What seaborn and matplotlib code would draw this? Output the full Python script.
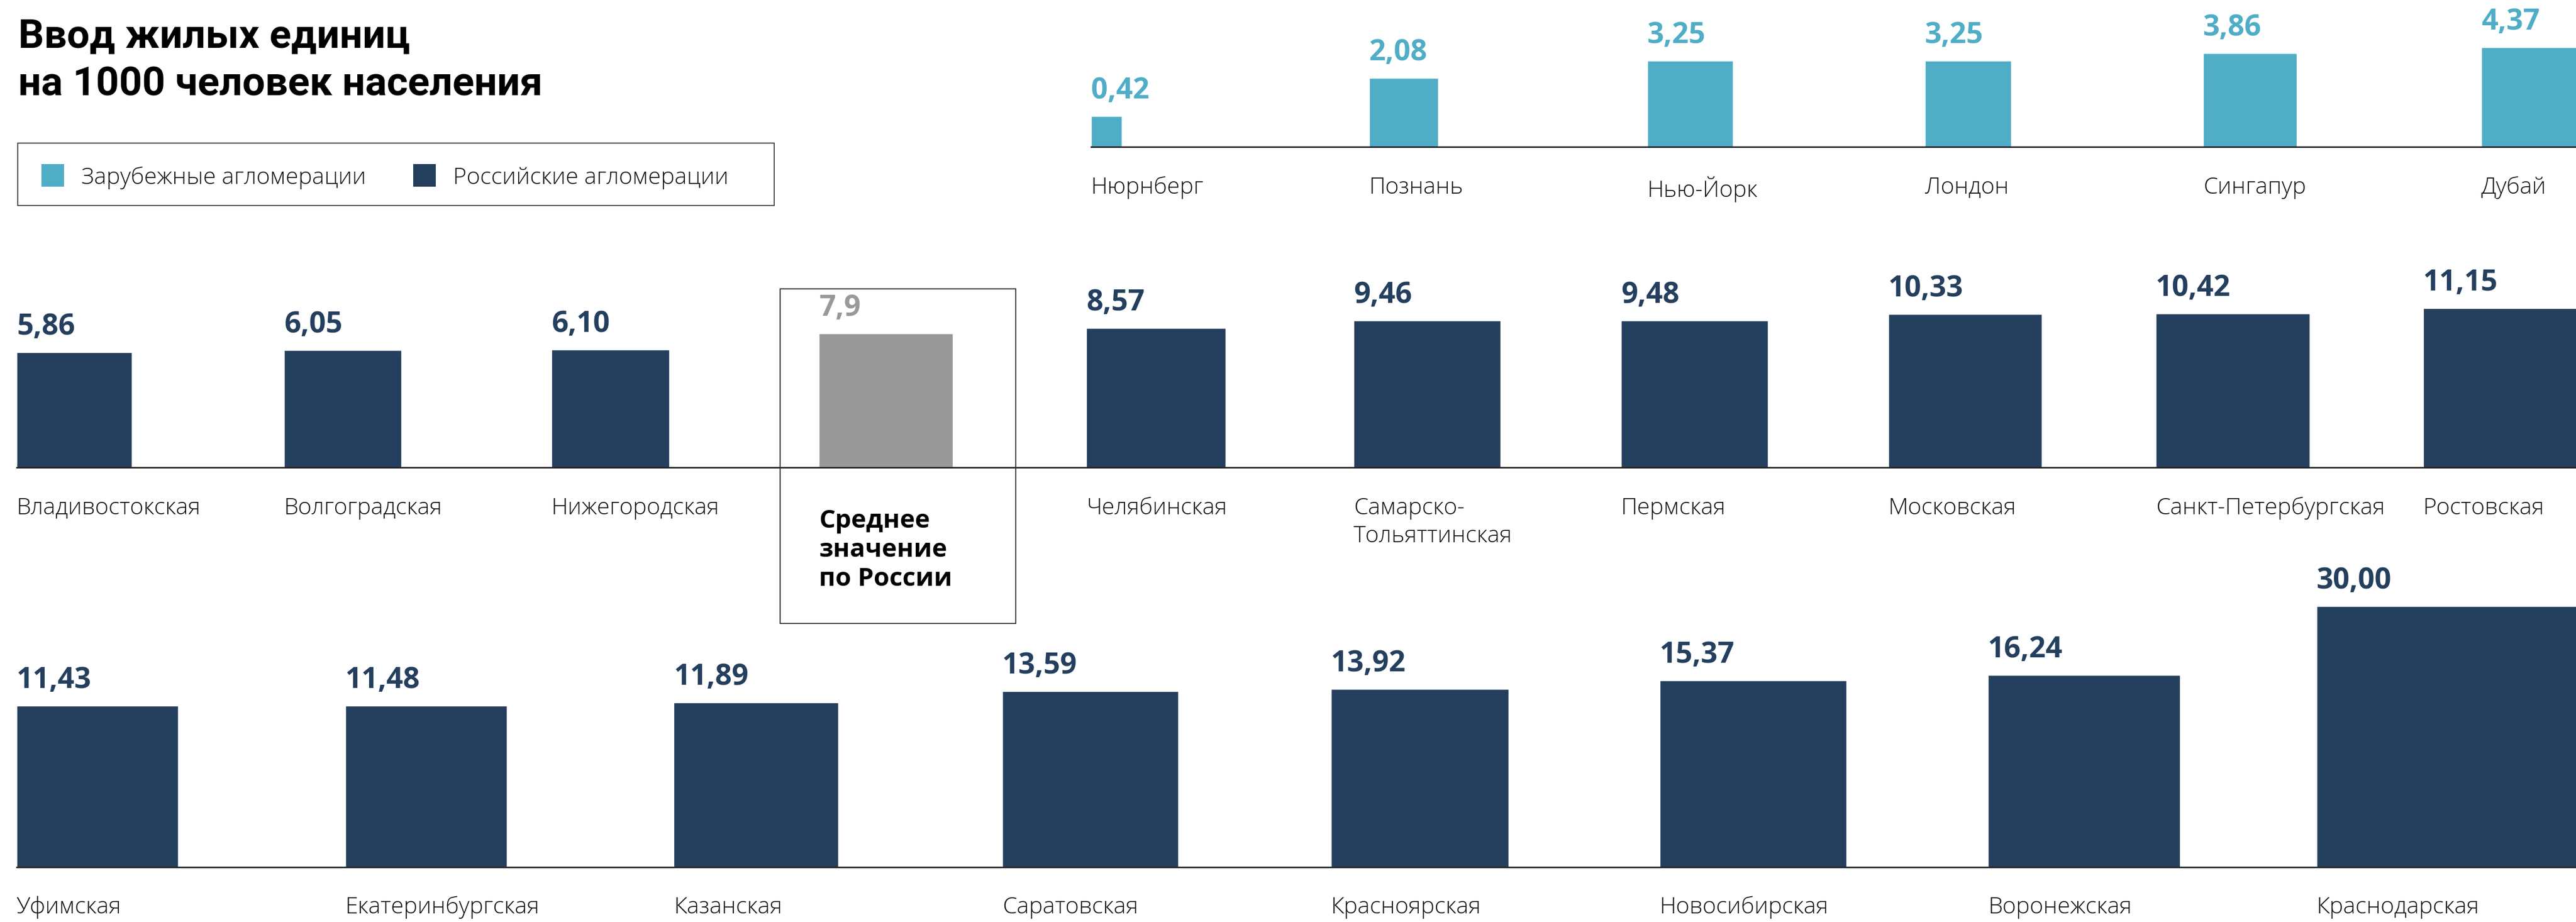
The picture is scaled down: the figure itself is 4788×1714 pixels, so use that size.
import numpy as np
import pandas as pd
import matplotlib
matplotlib.use("Agg")
import matplotlib.pyplot as plt
import seaborn as sns
from matplotlib.patches import Rectangle
from matplotlib.transforms import offset_copy

# --- data ---
foreign_names = ["Нюрнберг", "Познань", "Нью-Йорк", "Лондон", "Сингапур", "Дубай"]
foreign_values = [0.42, 2.08, 3.25, 3.25, 3.86, 4.37]

mid_names = ["Владивостокская", "Волгоградская", "Нижегородская",
             "Среднее\nзначение\nпо России", "Челябинская",
             "Самарско-\nТольяттинская", "Пермская", "Московская",
             "Санкт-Петербургская", "Ростовская"]
mid_values = [5.86, 6.05, 6.10, 7.9, 8.57, 9.46, 9.48, 10.33, 10.42, 11.15]

low_names = ["Уфимская", "Екатеринбургская", "Казанская", "Саратовская",
             "Красноярская", "Новосибирская", "Воронежская", "Краснодарская"]
low_values = [11.43, 11.48, 11.89, 13.59, 13.92, 15.37, 16.24, 30.00]

avg_name = "Среднее\nзначение\nпо России"

legend_labels = ["Зарубежные агломерации", "Российские агломерации"]

# --- style ---
FOREIGN = "#50adc6"
RUSSIA = "#243f5e"
AVG = "#999999"
W, H = 4788, 1714
K = 88.6  # pixels per sqrt-unit: bars are squares whose area ~ value
LABEL_FS = 31

sns.set_style("white")
plt.rcParams["font.family"] = ["Open Sans", "DejaVu Sans"]

fig = plt.figure(figsize=(W / 100, H / 100), dpi=100)


def fig_xy(x, y):
    return x / W, 1 - y / H


def draw_row(names, values, colors, left, baseline, spacing, height):
    ax = fig.add_axes([left / W, 1 - baseline / H, (W - left) / W, height / H])
    ax.patch.set_visible(False)
    df = pd.DataFrame({"name": names, "value": values})
    sns.barplot(data=df, x="name", y="value", hue="name",
                palette=dict(zip(names, colors)), saturation=1,
                legend=False, width=0.5, ax=ax)
    ax.set_yscale("function",
                  functions=(lambda y: np.sqrt(np.clip(y, 0, None)), np.square))
    ax.set_ylim(0, (height / K) ** 2)
    ax.set_xlim(0, (W - left) / spacing)
    ax.set_xlabel("")
    ax.set_ylabel("")
    ax.set_xticks([])
    ax.tick_params(which="both", length=0, labelleft=False, labelbottom=False)
    sns.despine(ax=ax, left=True)
    ax.spines["bottom"].set_color("#1e1e1e")
    ax.spines["bottom"].set_linewidth(2)

    # square bars, left-aligned on their slot
    px_x = ax.transData.transform((1, 0))[0] - ax.transData.transform((0, 0))[0]
    for p in ax.patches:
        i = int(round(p.get_x() + p.get_width() / 2))
        v = values[i]
        y0 = ax.transData.transform((0, 0))[1]
        y1 = ax.transData.transform((0, v))[1]
        p.set_x(i)
        p.set_width((y1 - y0) / px_x)
        p.set_clip_on(False)

    lab_tr = offset_copy(ax.get_xaxis_transform(), fig=fig, y=-54, units="dots")
    avg_tr = offset_copy(ax.get_xaxis_transform(), fig=fig, y=-76, units="dots")
    val_tr = offset_copy(ax.transData, fig=fig, y=33, units="dots")
    for i, (n, v, c) in enumerate(zip(names, values, colors)):
        if n == avg_name:
            ax.text(i, 0, n, transform=avg_tr, ha="left", va="top",
                    fontsize=34, fontweight="bold", color="black",
                    linespacing=1.2)
            txt = f"{v:.1f}".replace(".", ",")
        else:
            ax.text(i, 0, n, transform=lab_tr, ha="left", va="top",
                    fontsize=LABEL_FS, fontweight="light", color="#111111",
                    linespacing=1.3)
            txt = f"{v:.2f}".replace(".", ",")
        ax.text(i, v, txt, transform=val_tr, ha="left", va="baseline",
                fontsize=39, fontweight="bold", color=c, clip_on=False)
    return ax


draw_row(foreign_names, foreign_values, [FOREIGN] * len(foreign_names),
         left=2028, baseline=273, spacing=516.8, height=250)
draw_row(mid_names, mid_values,
         [AVG if n == avg_name else RUSSIA for n in mid_names],
         left=31, baseline=869, spacing=497, height=330)
draw_row(low_names, low_values, [RUSSIA] * len(low_names),
         left=31, baseline=1612, spacing=610.7, height=490)

# average box
x0, y0 = fig_xy(1450, 1159)
fig.add_artist(Rectangle((x0, y0), 438 / W, 622 / H, transform=fig.transFigure,
                         fill=False, edgecolor="#333333", linewidth=1.4))

# title
for line, yb in [("Ввод жилых единиц", 88), ("на 1000 человек населения", 177)]:
    fig.text(*fig_xy(34, yb), line, fontsize=54, fontweight="bold",
             family=["Roboto", "DejaVu Sans"], ha="left", va="baseline",
             color="black")

# legend
lx, ly = fig_xy(33, 382)
fig.add_artist(Rectangle((lx, ly), 1406 / W, 116 / H, transform=fig.transFigure,
                         fill=False, edgecolor="#444444", linewidth=1.4))
for sx, tx, col, lab in [(77, 151, FOREIGN, legend_labels[0]),
                         (768, 842, RUSSIA, legend_labels[1])]:
    bx, by = fig_xy(sx, 347)
    fig.add_artist(Rectangle((bx, by), 42 / W, 42 / H, transform=fig.transFigure,
                             facecolor=col, edgecolor="none"))
    fig.text(*fig_xy(tx, 342), lab, fontsize=LABEL_FS, fontweight="light",
             ha="left", va="baseline", color="#111111")

fig.savefig("out.png", dpi=100)
